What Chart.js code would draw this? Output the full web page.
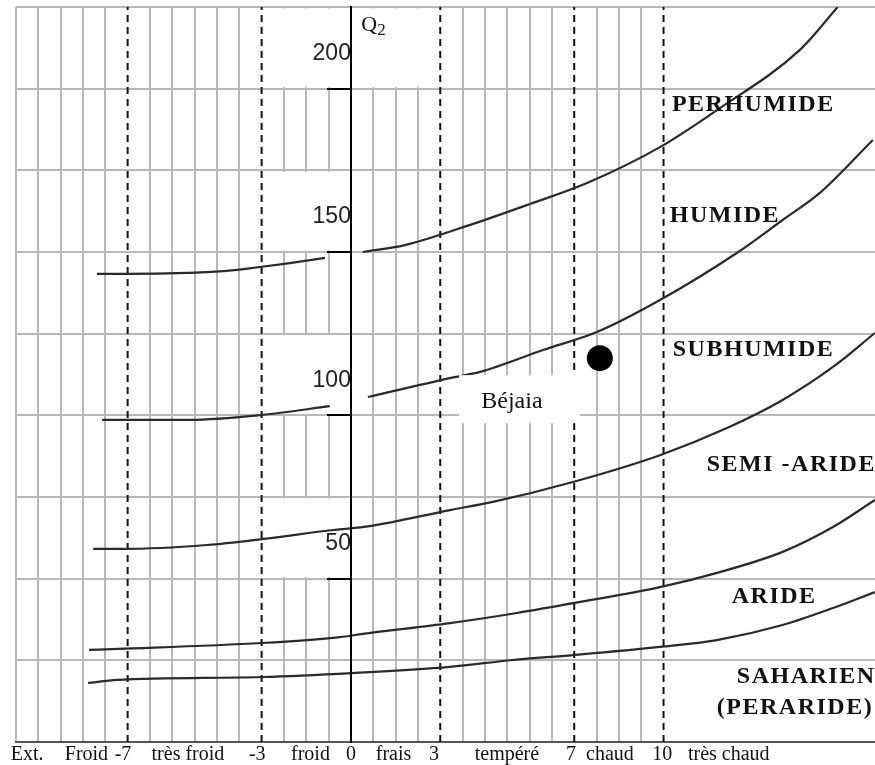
<!DOCTYPE html>
<html lang="fr">
<head>
<meta charset="utf-8">
<title>Climagramme d'Emberger - Béjaia</title>
<script src="https://cdn.jsdelivr.net/npm/chart.js@4.4.1/dist/chart.umd.min.js"></script>
<style>
    html, body { margin: 0; padding: 0; background: #fff; }
    canvas { display: block; }
</style>
</head>
<body>
<canvas id="climagramme" width="875" height="765"></canvas>
<script>
// abscisse : m (°C), ordonnée : Q2
// l'axe des m n'est pas régulier : chaque limite tombe sur une colonne de la grille
const limitesM = [-7, -3, 0, 3, 7, 10];
const colonnesM = [-10, -4, 0, 4, 10, 14];
const limitesTirets = [-7, -3, 3, 7, 10];

// limite perhumide / humide
const limPerhumideGaucheM = [-7.92, -7.02, -5.23, -4.03, -3.05, -2.05, -0.87];
const limPerhumideGaucheQ = [143.3, 143.3, 143.6, 144.2, 145.4, 146.6, 148.2];
const limPerhumideDroiteM = [0.40, 1.81, 3.98, 5.68, 7.43, 9.88, 11.79, 14.57, 15.85];
const limPerhumideDroiteQ = [150.0, 152.1, 158.6, 164.7, 171.1, 182.1, 193.4, 211.8, 225.0];

// limite humide / subhumide
const limHumideGaucheM = [-7.76, -6.99, -5.14, -2.99, -0.71];
const limHumideGaucheQ = [98.6, 98.6, 98.6, 100.1, 102.8];
const limHumideDroiteM = [0.57, 3.29, 4.19, 6.07, 7.76, 9.88, 12.46, 14.0, 15.24, 17.03];
const limHumideDroiteQ = [105.6, 111.4, 113.3, 120.0, 125.5, 135.3, 149.7, 159.8, 168.0, 184.3];

// limite subhumide / semi-aride
const limSubhumideM = [-8.03, -7.14, -4.63, -2.99, -0.60, 0.64, 3.29, 4.57, 6.96, 9.88, 12.13, 14.0, 15.69, 17.1];
const limSubhumideQ = [59.1, 59.1, 60.3, 62.1, 64.9, 66.1, 71.0, 73.5, 79.6, 87.8, 96.1, 104.7, 114.8, 125.2];

// limite semi-aride / aride
const limSemiArideM = [-8.15, -7.29, -2.99, -0.37, 0.40, 3.29, 5.29, 6.96, 9.88, 11.89, 14.0, 15.69, 17.1];
const limSemiArideQ = [28.2, 28.5, 30.3, 32.1, 33.1, 36.4, 39.5, 42.5, 47.4, 52.0, 58.2, 65.8, 74.1];

// limite aride / saharien
const limArideM = [-8.18, -7.32, -2.99, 0.03, 3.29, 5.17, 6.96, 9.88, 11.79, 14.0, 15.69, 17.1];
const limArideQ = [18.1, 19.0, 19.9, 21.1, 23.0, 25.1, 26.6, 29.1, 31.2, 35.8, 41.0, 45.9];

// station
const stationNom = 'Béjaia';
const bejaiaM = 7.86;
const bejaiaQ = 117.5;

// étages bioclimatiques
const zones = ['PERHUMIDE', 'HUMIDE', 'SUBHUMIDE', 'SEMI -ARIDE', 'ARIDE', 'SAHARIEN', '(PERARIDE)'];
const zonesM = [10.28, 10.21, 10.31, 11.45, 12.29, 12.46, 11.79];
const zonesQ = [195.6, 161.6, 120.6, 85.4, 45.0, 20.5, 11.0];

// variantes thermiques sous l'axe
const variantesTexte = ['Ext.', 'Froid', '-7', 'très froid', '-3', 'froid', '0', 'frais', '3', 'tempéré', '7', 'chaud', '10', 'très chaud'];
const variantesM = [-10, -8.23, -7.14, -5.2, -3.13, -1.36, 0, 1.43, 2.79, 4.99, 6.9, 8.2, 9.96, 12.19];

function colonne(m) {
    let i = 0;
    while (i < limitesM.length - 2 && m > limitesM[i + 1]) i++;
    const t = (m - limitesM[i]) / (limitesM[i + 1] - limitesM[i]);
    return colonnesM[i] + t * (colonnesM[i + 1] - colonnesM[i]);
}

function points(ms, qs) {
    return ms.map((m, i) => ({ x: colonne(m), y: qs[i] }));
}

// cases de la grille laissées en blanc (colonnes, Q2)
const casesVides = [
    { c0: -5, c1: 4, q0: 200, q1: 225 },
    { c0: -5, c1: 0, q0: 150, q1: 175 },
    { c0: -5, c1: 0, q0: 100, q1: 125 },
    { c0: -5, c1: 0, q0: 50, q1: 75 }
];

const grisGrille = '#b8b8b8';
const transparent = 'rgba(0,0,0,0)';

const styleCourbe = {
    showLine: true,
    borderColor: '#2a2a2a',
    borderWidth: 2.2,
    pointRadius: 0,
    cubicInterpolationMode: 'monotone',
    fill: false
};

const datasets = [
    {
        label: stationNom,
        data: [{ x: colonne(bejaiaM), y: bejaiaQ }],
        showLine: false,
        pointRadius: 13,
        pointBackgroundColor: '#000',
        pointBorderWidth: 0
    },
    { ...styleCourbe, data: points(limPerhumideGaucheM, limPerhumideGaucheQ) },
    { ...styleCourbe, data: points(limPerhumideDroiteM, limPerhumideDroiteQ) },
    { ...styleCourbe, data: points(limHumideGaucheM, limHumideGaucheQ) },
    { ...styleCourbe, data: points(limHumideDroiteM, limHumideDroiteQ) },
    { ...styleCourbe, data: points(limSubhumideM, limSubhumideQ) },
    { ...styleCourbe, data: points(limSemiArideM, limSemiArideQ) },
    { ...styleCourbe, data: points(limArideM, limArideQ) }
];

limitesTirets.forEach(m => {
    datasets.push({
        data: [{ x: colonne(m), y: 0 }, { x: colonne(m), y: 225 }],
        showLine: true,
        borderColor: '#111',
        borderWidth: 2,
        borderDash: [7, 5],
        pointRadius: 0
    });
});

const annotations = {
    id: 'annotations',
    beforeDatasetsDraw(chart) {
        const { ctx, scales: { x, y } } = chart;
        ctx.save();
        ctx.fillStyle = '#fff';
        casesVides.forEach(c => {
            const x0 = x.getPixelForValue(c.c0) + 1.5;
            const x1 = x.getPixelForValue(c.c1) - 1.5;
            const y0 = y.getPixelForValue(c.q1) + 1.5;
            const y1 = y.getPixelForValue(c.q0) - 1.5;
            ctx.fillRect(x0, y0, x1 - x0, y1 - y0);
        });
        ctx.restore();
    },
    afterDatasetsDraw(chart) {
        const { ctx, scales: { x, y } } = chart;
        // étiquette de la station
        const bx0 = x.getPixelForValue(colonne(3.56));
        const bx1 = x.getPixelForValue(colonne(7.19));
        const by0 = y.getPixelForValue(112.3);
        const by1 = y.getPixelForValue(97.6);
        ctx.save();
        ctx.fillStyle = '#fff';
        ctx.fillRect(bx0, by0, bx1 - bx0, by1 - by0);
        ctx.fillStyle = '#111';
        ctx.font = '24px "Liberation Serif"';
        ctx.textAlign = 'center';
        ctx.textBaseline = 'alphabetic';
        ctx.fillText(stationNom, x.getPixelForValue(colonne(5.14)), y.getPixelForValue(104.7) + 8);
        ctx.restore();
    },
    afterDraw(chart) {
        const { ctx, scales: { x, y } } = chart;
        ctx.save();
        ctx.fillStyle = '#111';
        ctx.textBaseline = 'alphabetic';

        // noms des étages
        ctx.font = 'bold 24px "Liberation Serif"';
        ctx.textAlign = 'left';
        ctx.letterSpacing = '1.5px';
        zones.forEach((z, i) => {
            ctx.fillText(z, x.getPixelForValue(colonne(zonesM[i])), y.getPixelForValue(zonesQ[i]) + 8);
        });
        ctx.letterSpacing = '0px';

        // variantes sous l'axe
        ctx.font = '20px "Liberation Serif"';
        ctx.textAlign = 'center';
        const base = chart.chartArea.bottom + 18;
        variantesTexte.forEach((t, i) => {
            ctx.fillText(t, x.getPixelForValue(colonne(variantesM[i])), base);
        });

        // titre de l'axe Q2
        const qx = x.getPixelForValue(colonne(0.35));
        const qy = y.getPixelForValue(217.6);
        ctx.textAlign = 'left';
        ctx.font = '22px "Liberation Serif"';
        ctx.fillText('Q', qx, qy);
        const w = ctx.measureText('Q').width;
        ctx.font = '17px "Liberation Serif"';
        ctx.fillText('2', qx + w, qy + 4);
        ctx.restore();
    }
};

new Chart(document.getElementById('climagramme'), {
    type: 'scatter',
    data: { datasets: datasets },
    options: {
        responsive: false,
        animation: false,
        layout: { autoPadding: false, padding: { left: 16, top: 7, right: 0, bottom: 23 } },
        plugins: {
            legend: { display: false },
            tooltip: { enabled: false }
        },
        scales: {
            x: {
                type: 'linear',
                min: -15,
                max: 23.47,
                afterBuildTicks: scale => {
                    const ticks = [];
                    for (let c = -15; c <= 14; c++) ticks.push({ value: c });
                    scale.ticks = ticks;
                },
                ticks: { display: false },
                grid: {
                    drawTicks: false,
                    lineWidth: 2,
                    color: ctx => {
                        const v = ctx.tick ? ctx.tick.value : null;
                        return colonnesM.includes(v) ? transparent : grisGrille;
                    }
                },
                border: { color: '#555', width: 2 }
            },
            y: {
                type: 'linear',
                position: { x: 0 },
                min: 0,
                max: 225,
                ticks: {
                    stepSize: 25,
                    z: 1,
                    padding: -14,
                    labelOffset: -35,
                    color: '#222',
                    font: { family: 'Liberation Sans', size: 23, lineHeight: 0.6 },
                    callback: v => (v % 50 === 0 && v > 0 && v <= 200) ? String(v) : ''
                },
                grid: {
                    lineWidth: 2,
                    color: grisGrille,
                    tickLength: 23,
                    tickWidth: 2,
                    tickColor: ctx => {
                        const v = ctx.tick ? ctx.tick.value : 0;
                        return (v % 50 === 0 && v > 0 && v <= 200) ? '#000' : transparent;
                    }
                },
                border: { color: '#000', width: 2, z: 1 }
            }
        }
    },
    plugins: [annotations]
});
</script>
</body>
</html>
